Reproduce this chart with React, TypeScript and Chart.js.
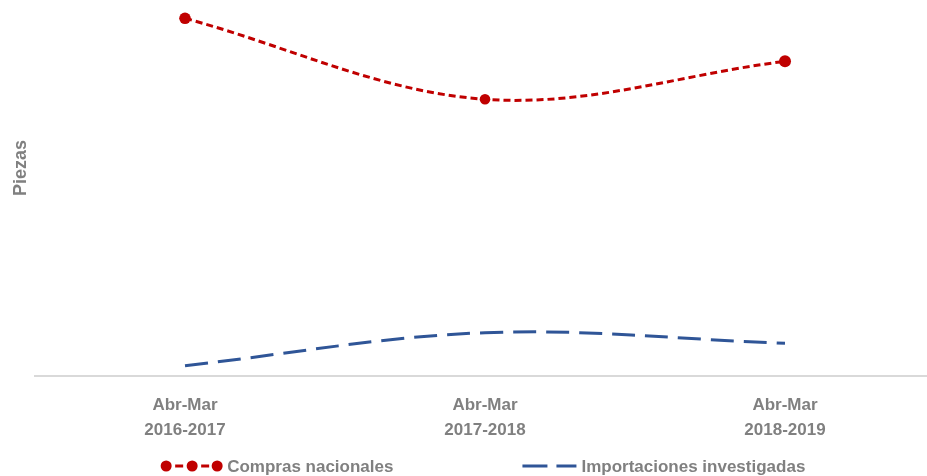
import React, { useEffect, useRef } from "react";
import { Chart, registerables } from "chart.js";

Chart.register(...registerables);

// ---- Data ----
const categories: string[][] = [
  ["Abr-Mar", "2016-2017"],
  ["Abr-Mar", "2017-2018"],
  ["Abr-Mar", "2018-2019"],
];
const comprasNacionales = [35770, 27670, 31470];
const importacionesInvestigadas = [1030, 4330, 3270];
const seriesNames = ["Compras nacionales", "Importaciones investigadas"];
const yAxisTitle = "Piezas";

// ---- Styles ----
const RED = "#C00000";
const BLUE = "#2F5597";
const GREY = "#808080";
const AXIS = "#D9D9D9";
const FONT = "'Liberation Sans', Arial, sans-serif";

const overlayPlugin = {
  id: "overlay",
  afterDraw(chart: any) {
    const { ctx, chartArea } = chart;
    // Y axis title
    ctx.save();
    ctx.font = `bold 18px ${FONT}`;
    ctx.fillStyle = GREY;
    ctx.textAlign = "center";
    ctx.textBaseline = "middle";
    ctx.translate(chartArea.left - 14, chartArea.top + (chartArea.bottom - chartArea.top) * 0.447);
    ctx.rotate(-Math.PI / 2);
    ctx.fillText(yAxisTitle, 0, 0);
    ctx.restore();

    // Legend
    ctx.save();
    ctx.font = `bold 17px ${FONT}`;
    const w1 = ctx.measureText(seriesNames[0]).width;
    const w2 = ctx.measureText(seriesNames[1]).width;
    const gap = 129;
    const total = 61 + w1 + gap + 59 + w2 + 5.5;
    const cx = (chartArea.left + chartArea.right) / 2 + 2;
    const s = cx - total / 2 + 5.5;
    const y = chartArea.bottom + 90;

    ctx.strokeStyle = RED;
    ctx.lineWidth = 3;
    ctx.beginPath();
    ctx.moveTo(s + 9, y); ctx.lineTo(s + 17, y);
    ctx.moveTo(s + 35, y); ctx.lineTo(s + 43, y);
    ctx.stroke();
    ctx.fillStyle = RED;
    [0, 26, 51].forEach((dx) => {
      ctx.beginPath();
      ctx.arc(s + dx, y, 5.5, 0, Math.PI * 2);
      ctx.fill();
    });
    ctx.fillStyle = GREY;
    ctx.textAlign = "left";
    ctx.textBaseline = "middle";
    ctx.fillText(seriesNames[0], s + 61, y + 1);

    const d = s + 61 + w1 + gap;
    ctx.strokeStyle = BLUE;
    ctx.lineWidth = 3;
    ctx.beginPath();
    ctx.moveTo(d, y); ctx.lineTo(d + 25, y);
    ctx.moveTo(d + 34, y); ctx.lineTo(d + 54, y);
    ctx.stroke();
    ctx.fillStyle = GREY;
    ctx.fillText(seriesNames[1], d + 59, y + 1);
    ctx.restore();
  },
};

export default function App() {
  const canvasRef = useRef<HTMLCanvasElement | null>(null);

  useEffect(() => {
    if (!canvasRef.current) return;
    const chart = new Chart(canvasRef.current, {
      type: "line",
      data: {
        datasets: [
          {
            label: seriesNames[0],
            data: comprasNacionales.map((v, i) => ({ x: i, y: v })),
            borderColor: RED,
            backgroundColor: RED,
            borderWidth: 3,
            borderDash: [7, 4],
            pointRadius: [5.8, 5.3, 6],
            pointBackgroundColor: RED,
            pointBorderWidth: 0,
            tension: 0.35,
            fill: false,
          },
          {
            label: seriesNames[1],
            data: importacionesInvestigadas.map((v, i) => ({ x: i, y: v })),
            borderColor: BLUE,
            backgroundColor: BLUE,
            borderWidth: 3,
            borderDash: [23, 10],
            pointRadius: 0,
            tension: 0.35,
            fill: false,
          },
        ],
      },
      options: {
        responsive: false,
        animation: false,
        devicePixelRatio: 1,
        layout: { autoPadding: false, padding: { left: 35, right: 0, top: 0, bottom: 40 } },
        plugins: {
          legend: { display: false },
          tooltip: { enabled: false },
          title: { display: false },
        },
        scales: {
          x: {
            type: "linear",
            min: -0.5,
            max: 2.4733,
            grid: { display: false, drawTicks: false },
            border: { display: true, color: AXIS, width: 2 },
            afterBuildTicks: (scale: any) => {
              scale.ticks = categories.map((_, i) => ({ value: i }));
            },
            afterFit: (scale: any) => {
              scale.height = 60;
              scale.paddingLeft = 0;
              scale.paddingRight = 0;
            },
            ticks: {
              autoSkip: false,
              maxRotation: 0,
              padding: 17,
              color: GREY,
              font: { family: FONT, size: 17, weight: "bold", lineHeight: "25px" },
              callback: (value: any) => categories[Math.round(Number(value))] ?? "",
            },
          },
          y: {
            display: false,
            min: 0,
            max: 37600,
          },
        },
      },
      plugins: [overlayPlugin],
    } as any);
    return () => chart.destroy();
  }, []);

  return (
    <div style={{ position: "fixed", left: 0, top: 0, width: 927, height: 476, background: "#fff" }}>
      <canvas ref={canvasRef} width={927} height={476} />
    </div>
  );
}
